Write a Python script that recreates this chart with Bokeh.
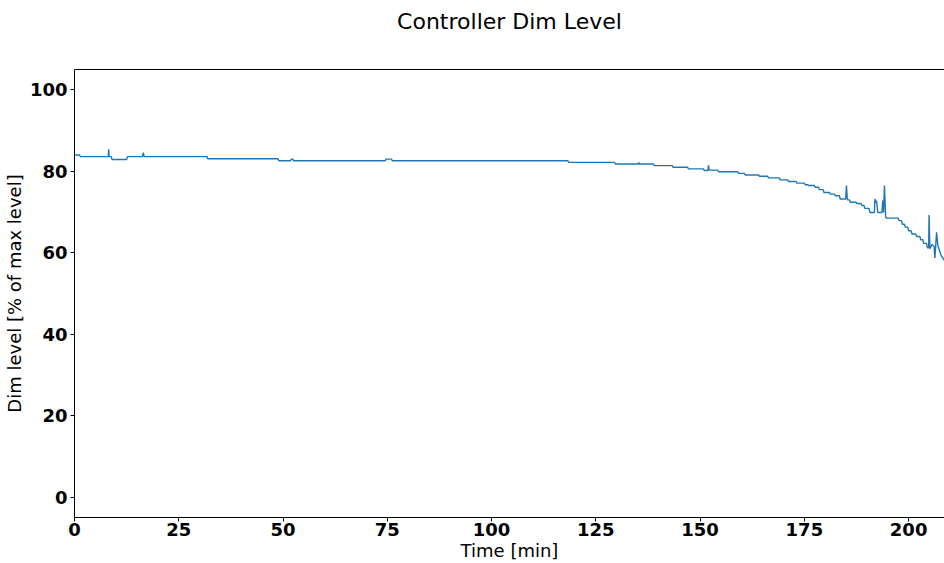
from bokeh.plotting import figure
from bokeh.models import LinearAxis, FixedTicker, Range1d
from bokeh.embed import file_html
from bokeh.resources import INLINE

# Controller dim level over time (minutes, percent of max level)
time_min = [
    0.0, 1.2, 1.4, 8.1, 8.2, 8.3, 8.8, 9.0, 12.5, 12.7, 16.3, 16.5, 16.7,
    31.8, 31.9, 48.8, 49.0, 51.8, 52.0, 52.4, 52.5, 74.5, 74.7, 76.0, 76.2,
    118.3, 118.5, 129.5, 129.7, 135.2, 135.3, 135.4, 138.8, 139.0, 143.3, 143.5,
    147.0, 147.2, 150.8, 151.0, 151.9, 152.0, 152.2, 154.2, 154.4, 159.0, 159.2,
    160.6, 160.8, 164.0, 164.2, 166.2, 166.4, 169.0, 169.2, 171.0, 171.2,
    173.0, 173.2, 175.0, 175.2, 175.8, 176.0, 177.4, 177.6, 178.4, 178.6,
    179.5, 179.7, 181.0, 181.2, 182.2, 182.4, 183.4, 183.6, 184.9, 185.1, 185.3,
    185.8, 186.0, 187.4, 187.6, 188.6, 188.8, 189.3, 189.5, 190.5, 190.7,
    191.8, 191.9, 192.1, 192.3, 192.6, 193.6, 193.8, 194.0, 194.2, 194.5, 194.8,
    197.5, 197.7, 198.3, 198.5, 199.0, 199.2, 199.8, 200.0, 200.6, 200.8,
    201.7, 201.9, 202.7, 202.9, 203.4, 203.6, 204.3, 204.5, 204.8, 204.9, 205.1,
    205.6, 206.1, 206.3, 206.7, 207.0, 207.4, 207.8, 208.6,
]
dim_level = [
    84.0, 84.0, 83.6, 83.6, 85.4, 83.6, 83.6, 82.9, 82.9, 83.6, 83.6, 84.6, 83.6,
    83.6, 83.1, 83.1, 82.6, 82.6, 83.0, 83.0, 82.6, 82.6, 83.0, 83.0, 82.6,
    82.6, 82.2, 82.2, 81.8, 81.8, 82.2, 81.8, 81.8, 81.4, 81.4, 81.0,
    81.0, 80.6, 80.6, 80.2, 80.2, 81.5, 80.3, 80.3, 79.9, 79.9, 79.5,
    79.5, 79.1, 79.1, 78.8, 78.8, 78.4, 78.4, 77.9, 77.9, 77.5,
    77.5, 77.1, 77.1, 76.7, 76.7, 76.5, 76.5, 76.1, 76.1, 75.5,
    75.5, 74.8, 74.8, 74.4, 74.4, 74.0, 74.0, 73.2, 73.2, 76.5, 73.0,
    73.0, 72.4, 72.4, 72.1, 72.1, 71.6, 71.6, 70.9, 70.9, 69.9,
    69.9, 73.2, 72.3, 72.8, 69.9, 69.9, 72.8, 69.9, 76.5, 68.7, 68.5,
    68.5, 67.9, 67.9, 67.0, 67.0, 66.3, 66.3, 65.4, 65.4, 64.6,
    64.6, 64.0, 64.0, 63.2, 63.2, 62.3, 62.3, 61.2, 61.2, 69.3, 61.0,
    62.0, 61.6, 58.7, 65.0, 61.8, 60.5, 59.3, 58.1,
]

x_ticks = [0, 25, 50, 75, 100, 125, 150, 175, 200]
y_ticks = [0, 20, 40, 60, 80, 100]

FONT = "DejaVu Sans"

p = figure(
    width=944, height=563,
    x_range=Range1d(0, 208.6), y_range=Range1d(-5, 105),
    output_backend="svg", toolbar_location=None,
    min_border_left=10, min_border_right=0, min_border_top=69, min_border_bottom=0,
)
p.outline_line_color = None
p.grid.visible = False
p.background_fill_color = "white"
p.border_fill_color = "white"

p.line(time_min, dim_level, line_color="#1f77b4", line_width=1.4)

for ax, ticks in ((p.xaxis[0], x_ticks), (p.yaxis[0], y_ticks)):
    ax.ticker = FixedTicker(ticks=ticks)
    ax.major_label_text_font = FONT
    ax.major_label_text_font_style = "bold"
    ax.major_label_text_font_size = "18px"
    ax.major_label_text_color = "black"
    ax.axis_label_text_font = FONT
    ax.axis_label_text_font_style = "normal"
    ax.axis_label_text_font_size = "18px"
    ax.axis_label_text_color = "black"
    ax.axis_line_color = "black"
    ax.major_tick_line_color = "black"
    ax.major_tick_in = 0
    ax.major_tick_out = 4
    ax.minor_tick_line_color = None

p.xaxis.axis_label = "Time [min]"
p.xaxis.major_label_standoff = 1
p.xaxis.axis_label_standoff = 1
p.yaxis.axis_label = "Dim level [% of max level]"
p.yaxis.major_label_standoff = 3
p.yaxis.axis_label_standoff = 2

# top spine, carrying the chart title as its label
top = LinearAxis(
    ticker=FixedTicker(ticks=[]),
    major_label_text_font_size="0px",
    major_tick_line_color=None, minor_tick_line_color=None,
    axis_line_color="black",
    axis_label="Controller Dim Level",
    axis_label_text_font=FONT,
    axis_label_text_font_size="22px",
    axis_label_text_font_style="normal",
    axis_label_text_color="black",
    axis_label_standoff=36,
)
p.add_layout(top, "above")

open("out.html", "w").write(file_html(p, INLINE))
